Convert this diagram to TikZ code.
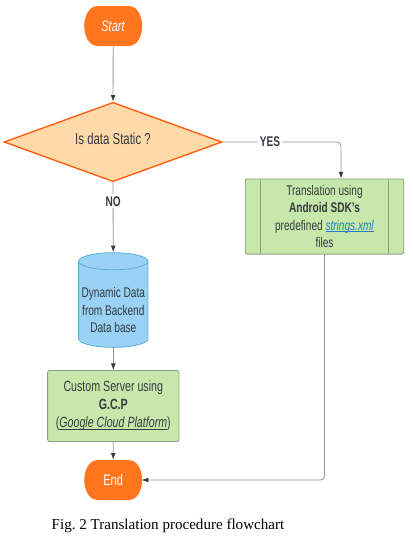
\documentclass[tikz,border=0pt]{standalone}
\usepackage{fontspec}
\setmainfont[FakeStretch=0.72]{Liberation Sans}
\newfontfamily\captionfont{Liberation Serif}
\usetikzlibrary{arrows.meta, positioning, calc, shapes.geometric, shapes.misc}

\definecolor{terminal}{HTML}{FF761E}
\definecolor{decisionfill}{HTML}{FFDAA8}
\definecolor{decisionline}{HTML}{FF5A0A}
\definecolor{procfill}{HTML}{C8E8AB}
\definecolor{procline}{HTML}{8E9E84}
\definecolor{dbfill}{HTML}{99D2F4}
\definecolor{dbline}{HTML}{5DAEDC}
\definecolor{inktext}{HTML}{333A40}
\definecolor{linktext}{HTML}{1F7FB8}

\newsavebox\subrayadobox
\newcommand{\subrayado}[1]{\sbox\subrayadobox{#1}\rlap{\rule[-1.3pt]{\wd\subrayadobox}{0.5pt}}\usebox\subrayadobox}
\newcommand{\textoflujo}{\fontsize{10.5}{13}\selectfont}

\begin{document}
\begin{tikzpicture}[
        x=0.75pt, y=-0.75pt,
        terminator/.style={
            rounded rectangle,
            rounded rectangle arc length=90,
            rounded corners=3pt,
            minimum width=41.6pt,
            minimum height=30pt,
            inner sep=0pt,
            font=\fontsize{11.5}{13}\selectfont,
            text=white,
            fill=terminal
        },
        decision/.style={
            diamond,
            aspect=2.75,
            minimum width=163.5pt,
            minimum height=59.5pt,
            inner sep=0pt,
            align=center,
            font=\fontsize{11.9}{13}\selectfont,
            text=inktext,
            line width=1pt,
            draw=decisionline,
            fill=decisionfill
        },
        proceso/.style={
            rectangle,
            rounded corners=1.5pt,
            align=center,
            inner sep=0pt,
            font=\textoflujo,
            text=inktext,
            draw=procline,
            line width=0.6pt,
            fill=procfill
        },
        database/.style={
            cylinder,
            shape border rotate=90,
            aspect=0.27,
            minimum width=52pt,
            minimum height=71pt,
            inner sep=0pt,
            align=center,
            font=\textoflujo,
            text=inktext,
            draw=dbline,
            line width=0.6pt,
            fill=dbfill
        },
        etiqueta/.style={
            fill=white,
            inner sep=1.5pt,
            font=\textoflujo\bfseries,
            text=inktext
        },
        flecha/.style={-{Latex[length=5pt,width=3.6pt,color=inktext]}, line width=0.6pt, draw=black!42}
    ]
        \useasboundingbox (0,0) rectangle (412,536);

        \node[terminator] (start) at (113.2,26) {\textit{Start}};

        \node[decision] (static) at (113,142) {Is data Static ?\rule[-5pt]{0pt}{5pt}};

        \node[proceso, minimum width=119pt, minimum height=56.4pt,
            path picture={
                \draw[procline, line width=0.6pt]
                    ([xshift=11.4pt]path picture bounding box.north west) -- ([xshift=11.4pt]path picture bounding box.south west)
                    ([xshift=-11.4pt]path picture bounding box.north east) -- ([xshift=-11.4pt]path picture bounding box.south east);
            }] (android) at (324.5,216.5) {
            Translation using\\
            \textbf{Android SDK's}\\
            predefined \textcolor{linktext}{\subrayado{\textit{strings.xml}}}\\
            files
        };
        \coordinate (androidin) at ([xshift=12.4pt]android.north);

        \node[database] (backend) at (113.3,304.5) {
            \rule{0pt}{16pt}Dynamic Data\\
            from Backend\\
            Data base
        };

        \node[proceso, font=\fontsize{11.1}{13.4}\selectfont, minimum width=98.5pt, minimum height=53.2pt] (gcp) at (113.3,406) {
            Custom Server using\\
            \textbf{G.C.P}\\
            (\subrayado{\textit{Google Cloud Platform}})
        };

        \node[terminator] (end) at (113.2,480) {End};

        \node[font=\captionfont\fontsize{11.3}{13}\selectfont, text=black, inner sep=0pt] (caption) at (168,526) {Fig.~2 Translation procedure flowchart};

        \draw[flecha] (start) -- (static);
        \draw[flecha] (static) -- node[etiqueta, pos=0.27] (no) {NO} (backend);
        \draw[flecha, rounded corners=3pt] (static.east) -| node[etiqueta, pos=0.2] (yes) {YES} (androidin);
        \draw[flecha] (backend) -- (gcp);
        \draw[flecha] (gcp) -- (end);
        \draw[flecha, rounded corners=3pt] (android.south) |- (end.east);
    \end{tikzpicture}
\end{document}
